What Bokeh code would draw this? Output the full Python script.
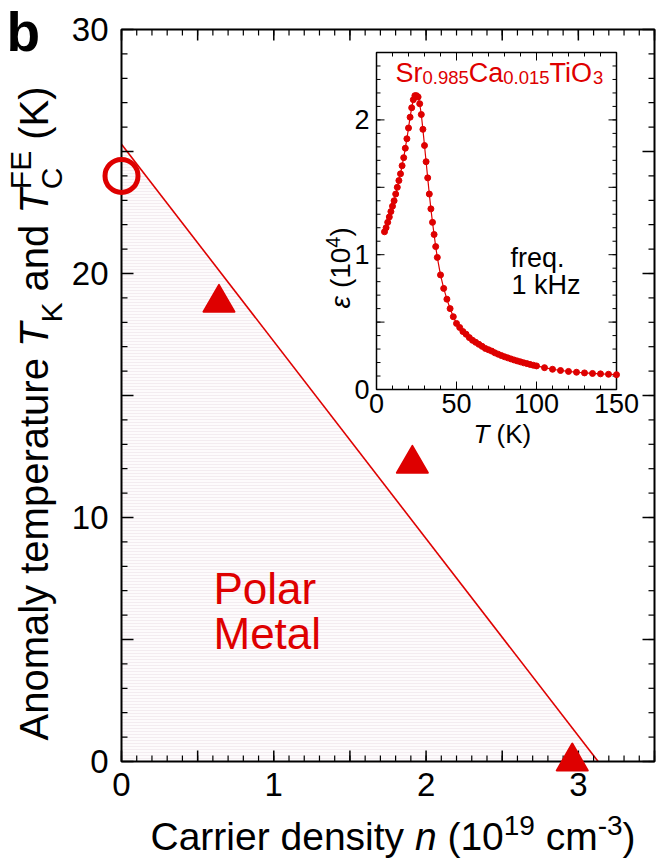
import numpy as np
from bokeh.plotting import figure
from bokeh.models import Range1d, Label
from bokeh.core.properties import value
from bokeh.embed import file_html
from bokeh.resources import INLINE

# ---------------- data ----------------
# main panel
n_circle = [0.0]            # 10^19 cm^-3
Tc_circle = [24.0]          # K  (T_C^FE)
n_tri = [0.64, 1.91, 2.96]
Tk_tri = [18.8, 12.2, 0.0]  # K  (T_K)
line_n = [0.0, 3.13]
line_T = [25.3, 0.0]

x_lim = [0, 3.5]
y_lim = [0, 30]
x_major = [0, 0.5, 1, 1.5, 2, 2.5, 3, 3.5]
x_minor = [round(0.1 * i, 1) for i in range(36)]
x_lab_pos = [0, 1, 2, 3]
x_labels = ["0", "1", "2", "3"]
y_major = [0, 5, 10, 15, 20, 25, 30]
y_minor = list(range(31))
y_lab_pos = [0, 10, 20, 30]
y_labels = ["0", "10", "20", "30"]

# inset: dielectric constant vs T
T_eps = [5, 6, 7, 8, 9, 10, 11, 12, 13, 14, 15, 16, 17, 18, 19, 20, 21, 22, 23, 24, 25, 26,
         27, 28, 29, 30, 31, 32, 33, 34, 35, 36, 37, 38,
         40, 42, 44, 46, 48, 50, 52, 54, 56, 58, 60, 62, 64, 66, 68, 70, 72, 74, 76, 78,
         80, 82, 84, 86, 88, 90, 92, 94, 96, 98, 100,
         105, 110, 115, 120, 125, 130, 135, 140, 145, 150]
eps = [1.17, 1.20, 1.24, 1.28, 1.32, 1.36, 1.40, 1.45, 1.50, 1.55, 1.60, 1.66, 1.72, 1.79,
       1.86, 1.94, 2.02, 2.09, 2.15, 2.18, 2.18, 2.17,
       2.12, 2.04, 1.93, 1.81, 1.69, 1.57, 1.45, 1.34, 1.24, 1.15, 1.06, 0.98,
       0.85, 0.75, 0.67, 0.60, 0.54, 0.49, 0.46, 0.43, 0.41, 0.385, 0.365, 0.35, 0.335,
       0.32, 0.305, 0.295, 0.285, 0.272, 0.262, 0.252, 0.243, 0.235, 0.227, 0.219, 0.212,
       0.205, 0.198, 0.192, 0.186, 0.180, 0.175,
       0.162, 0.150, 0.141, 0.134, 0.128, 0.123, 0.119, 0.116, 0.113, 0.110]
ix_lim = [0, 150]
iy_lim = [0, 2.5]
ix_major = [0, 50, 100, 150]
ix_labels = ["0", "50", "100", "150"]
ix_minor = list(range(0, 151, 10))
iy_major = [0, 0.5, 1, 1.5, 2, 2.5]
iy_lab_pos = [0, 1, 2]
iy_labels = ["0", "1", "2"]
iy_minor = [round(0.1 * i, 1) for i in range(26)]

# ---------------- layout ----------------
RED = "#de0000"
FONT = "Liberation Sans"
CW, CH = 659, 859                 # canvas (frame covers it all)
ML, MR, MT, MB = 121, 654, 29, 761   # main plot box, px
IL, IR, IT, IB = 376, 616, 52, 389   # inset box, px
BASE_FIX = 0.38                   # label anchor -> alphabetic baseline correction (em)


def xrange_for(lo, hi, p_lo, p_hi):
    k = (p_hi - p_lo) / (hi - lo)
    return Range1d(lo - p_lo / k, hi + (CW - p_hi) / k)


def yrange_for(lo, hi, p_lo, p_hi):   # p_lo: pixel of lo (bottom), p_hi: pixel of hi (top)
    k = (p_lo - p_hi) / (hi - lo)
    return Range1d(lo - (CH - p_lo) / k, hi + p_hi / k)


xr = xrange_for(x_lim[0], x_lim[1], ML, MR)
yr = yrange_for(y_lim[0], y_lim[1], MB, MT)

p = figure(x_range=xr, y_range=yr, width=CW, height=CH, min_border=0,
           x_axis_type=None, y_axis_type=None,
           output_backend="svg", toolbar_location=None,
           background_fill_color="white", border_fill_color="white")
p.grid.visible = False
p.outline_line_color = None
p.extra_x_ranges = {"ix": xrange_for(ix_lim[0], ix_lim[1], IL, IR)}
p.extra_y_ranges = {"iy": yrange_for(iy_lim[0], iy_lim[1], IB, IT)}
INS = dict(x_range_name="ix", y_range_name="iy")


def dx(px):
    return xr.start + px / CW * (xr.end - xr.start)


def dy(py):
    return yr.end - py / CH * (yr.end - yr.start)


def ticks(xs, ys, length, angle, width, **kw):
    p.ray(x=xs, y=ys, length=length, length_units="screen", angle=angle,
          line_color="black", line_width=width, **kw)


# ---------------- main panel ----------------
p.varea(x=line_n, y1=[0] * len(line_n), y2=line_T, fill_color="#fdfbfc",
        hatch_pattern="horizontal_line", hatch_color="#f3ecf0", hatch_scale=3, hatch_weight=1)
p.line(line_n, line_T, line_color=RED, line_width=1.6)

ticks(x_minor, [y_lim[0]] * len(x_minor), 6, np.pi / 2, 1.2)
ticks(x_major, [y_lim[0]] * len(x_major), 11, np.pi / 2, 1.5)
ticks(x_minor, [y_lim[1]] * len(x_minor), 6, -np.pi / 2, 1.2)
ticks(x_major, [y_lim[1]] * len(x_major), 11, -np.pi / 2, 1.5)
ticks([x_lim[0]] * len(y_minor), y_minor, 6, 0, 1.2)
ticks([x_lim[0]] * len(y_major), y_major, 12, 0, 1.5)
ticks([x_lim[1]] * len(y_minor), y_minor, 6, np.pi, 1.2)
ticks([x_lim[1]] * len(y_major), y_major, 12, np.pi, 1.5)
p.quad(left=[x_lim[0]], right=[x_lim[1]], bottom=[y_lim[0]], top=[y_lim[1]],
       fill_color=None, line_color="black", line_width=2)

p.text(x=x_lab_pos, y=[y_lim[0]] * len(x_lab_pos), text=x_labels, text_align="center",
       text_baseline="top", y_offset=11, text_font=value(FONT), text_font_size="33px",
       text_color="black")
p.text(x=[x_lim[0]] * len(y_lab_pos), y=y_lab_pos, text=y_labels, text_align="right",
       text_baseline="middle", x_offset=-13, text_font=value(FONT), text_font_size="33px",
       text_color="black")

# ---------------- inset ----------------
p.quad(left=[ix_lim[0]], right=[ix_lim[1]], bottom=[iy_lim[0]], top=[iy_lim[1]],
       fill_color="white", line_color="black", line_width=1.5, **INS)
ticks(ix_minor, [iy_lim[0]] * len(ix_minor), 4, np.pi / 2, 1, **INS)
ticks(ix_major, [iy_lim[0]] * len(ix_major), 8, np.pi / 2, 1, **INS)
ticks(ix_minor, [iy_lim[1]] * len(ix_minor), 4, -np.pi / 2, 1, **INS)
ticks(ix_major, [iy_lim[1]] * len(ix_major), 8, -np.pi / 2, 1, **INS)
ticks([ix_lim[0]] * len(iy_minor), iy_minor, 4, 0, 1, **INS)
ticks([ix_lim[0]] * len(iy_major), iy_major, 8, 0, 1, **INS)
ticks([ix_lim[1]] * len(iy_minor), iy_minor, 4, np.pi, 1, **INS)
ticks([ix_lim[1]] * len(iy_major), iy_major, 8, np.pi, 1, **INS)

p.text(x=ix_major, y=[iy_lim[0]] * len(ix_major), text=ix_labels, text_align="center",
       text_baseline="top", y_offset=4, text_font=value(FONT), text_font_size="27px",
       text_color="black", **INS)
p.text(x=[ix_lim[0]] * len(iy_lab_pos), y=iy_lab_pos, text=iy_labels, text_align="right",
       text_baseline="middle", x_offset=-7, text_font=value(FONT), text_font_size="27px",
       text_color="black", **INS)

p.line(T_eps, eps, line_color=RED, line_width=1.2, **INS)
p.scatter(T_eps, eps, marker="circle", size=6, fill_color=RED, line_color=RED, **INS)

# markers of main panel on top
p.scatter(n_circle, Tc_circle, marker="circle", size=33, fill_color=None,
          line_color=RED, line_width=5)
p.scatter(n_tri, Tk_tri, marker="triangle", size=31, fill_color=RED,
          line_color=RED, line_width=2, line_join="round")

# ---------------- texts ----------------
W = {' ': 278, '(': 333, ')': 333, '-': 333, '.': 278, 'A': 667, 'C': 722, 'E': 667,
     'F': 611, 'H': 722, 'K': 667, 'M': 833, 'O': 778, 'P': 667, 'S': 667, 'T': 611,
     'a': 556, 'c': 500, 'd': 556, 'e': 556, 'f': 278, 'i': 222, 'k': 500, 'l': 222,
     'm': 833, 'n': 556, 'o': 556, 'p': 556, 'q': 556, 'r': 333, 's': 500, 't': 278,
     'u': 556, 'y': 500, 'z': 500, 'ε': 450}
for d in "0123456789":
    W[d] = 556


def tw(s, size):
    return sum(W.get(c, 556) for c in s) * size / 1000.0


def label(px, py, text, size, color="black", style="normal", angle=0.0):
    # (px, py): wanted start of the alphabetic baseline, in picture pixels
    if angle == 0.0:
        py -= BASE_FIX * size
    else:
        px -= BASE_FIX * size
    p.add_layout(Label(x=dx(px), y=dy(py), text=text, text_font=FONT,
                       text_font_size=f"{size}px", text_font_style=style,
                       text_color=color, text_align="left", text_baseline="alphabetic",
                       angle=angle))


def split_space(text, size):
    lead = len(text) - len(text.lstrip(" "))
    return tw(" " * lead, size), text.strip(" ")


def runs_h(x0, base, runs, color="black"):
    x = x0
    for text, size, style, shift in runs:
        off, t = split_space(text, size)
        label(x + off, base - shift, t, size, color, style)
        x += tw(text, size)


def runs_v(y0, base, runs, color="black"):
    y = y0
    for item in runs:
        adv = 0
        for text, size, style, shift in item:
            off, t = split_space(text, size)
            label(base - shift, y - off, t, size, color, style, angle=np.pi / 2)
            adv = max(adv, tw(text, size))
        y -= adv


label(6, 52, "b", 55, style="bold")

runs_h(150, 851, [("Carrier density ", 39, "normal", 0), ("n", 39, "italic", 0),
                  (" (10", 39, "normal", 0), ("19", 28, "normal", 15),
                  (" cm", 39, "normal", 0), ("-3", 28, "normal", 15),
                  (")", 39, "normal", 0)])

runs_v(740, 49, [[("Anomaly temperature ", 40, "normal", 0)], [("T", 40, "italic", 0)],
                 [("K", 30, "normal", -13)], [(" and ", 40, "normal", 0)],
                 [("T", 40, "italic", 0)],
                 [("C", 30, "normal", -13), ("FE", 30, "normal", 18)],
                 [(" (K)", 40, "normal", 0)]])

label(213, 605, "Polar", 44, RED)
label(213, 650, "Metal", 44, RED)

runs_h(395, 83, [("Sr", 27, "normal", 0), ("0.985", 18.5, "normal", -1),
                 ("Ca", 27, "normal", 0), ("0.015", 18.5, "normal", -1),
                 ("TiO", 27, "normal", 0), ("3", 18.5, "normal", -1)], RED)

label(510, 268, "freq.", 27)
label(511, 295, "1 kHz", 27)

runs_h(473, 443, [("T", 26, "italic", 0), (" (K)", 26, "normal", 0)])
runs_v(308, 351, [[("ε", 28, "italic", 0)], [(" (10", 28, "normal", 0)],
                  [("4", 20, "normal", 11)], [(")", 28, "normal", 0)]])

open("out.html", "w").write(file_html(p, INLINE))
